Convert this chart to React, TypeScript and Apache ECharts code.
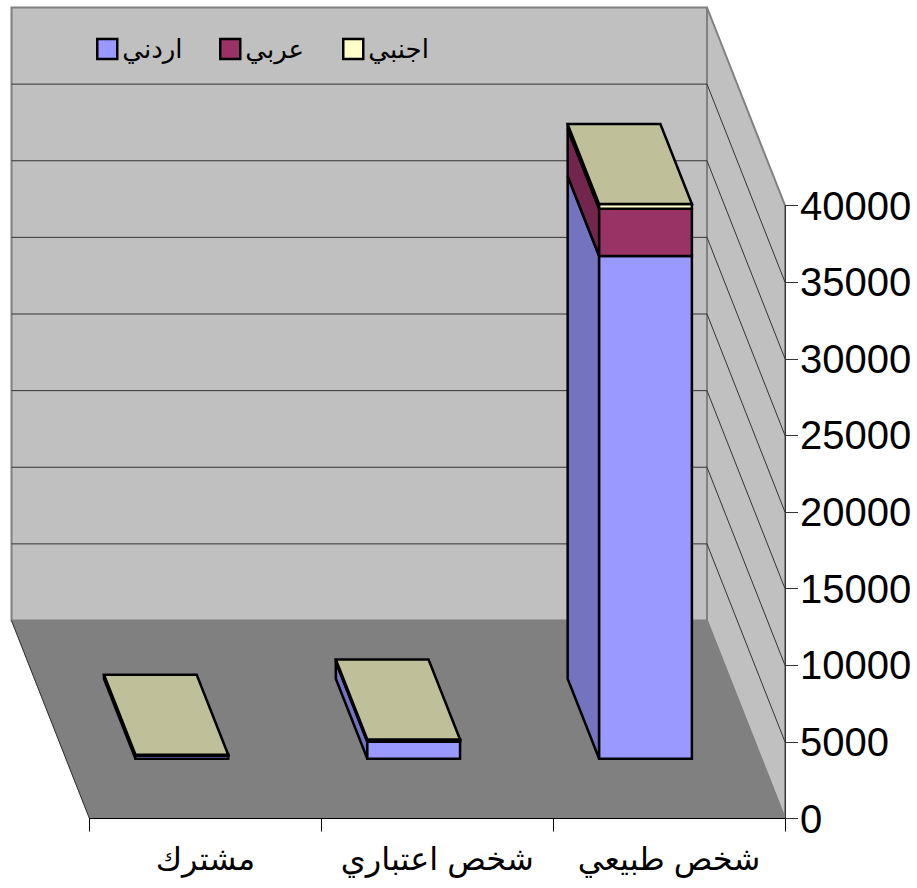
import React, { useEffect, useRef } from "react";
import * as echarts from "echarts";

const categories = ["مشترك", "شخص اعتباري", "شخص طبيعي"];
const seriesNames = ["اردني", "عربي", "اجنبي"];
const jordanian = [200, 1100, 32800];
const arab = [30, 100, 3090];
const foreign = [30, 50, 300];
const yTicks = [5000, 10000, 15000, 20000, 25000, 30000, 35000, 40000];

const frontColors = ["#9999ff", "#993366", "#ffffcc"];
const sideColors = ["#7373bf", "#73264d", "#bfbf99"];
const topColor = "#bfbf99";

const FONT = '"Liberation Sans", Arial, "DejaVu Sans", sans-serif';
const DX = -78;
const DY = -198;
const BAR_FRONT = 0.302;
const BAR_BACK = 0.706;
const BAR_WIDTH_RATIO = 0.4;

const EDGE = "#000000";

function wallRender(params: any, api: any) {
  const cs = params.coordSys;
  const L = cs.x;
  const R = cs.x + cs.width;
  const B = cs.y + cs.height;
  const T = cs.y;
  const wallStroke = { stroke: "#808080", lineWidth: 2 };
  const children: any[] = [
    {
      type: "polygon",
      shape: { points: [[L + DX, T + DY], [R + DX, T + DY], [R + DX, B + DY], [L + DX, B + DY]] },
      style: { fill: "#c0c0c0", ...wallStroke },
    },
    {
      type: "polygon",
      shape: { points: [[R + DX, T + DY], [R, T], [R, B], [R + DX, B + DY]] },
      style: { fill: "#c0c0c0", ...wallStroke },
    },
    {
      type: "polygon",
      shape: { points: [[L + DX, B + DY], [R + DX, B + DY], [R, B], [L, B]] },
      style: { fill: "#808080", stroke: "#808080", lineWidth: 1 },
    },
    {
      type: "line",
      shape: { x1: L + DX, y1: B + DY, x2: L, y2: B },
      style: { stroke: "#333333", lineWidth: 1 },
    },
  ];
  yTicks.slice(0, -1).forEach((v) => {
    const y = api.coord([0, v])[1];
    children.push({
      type: "polyline",
      shape: { points: [[L + DX, y + DY], [R + DX, y + DY], [R, y]] },
      style: { stroke: "#333333", lineWidth: 1, fill: "none" },
    });
  });
  return { type: "group", children };
}

function barRender(seriesIndex: number, isTop: boolean) {
  return (_params: any, api: any) => {
    const cat = api.value(0);
    const base = api.value(1);
    const end = api.value(2);
    const center = api.coord([cat, 0])[0];
    const width = api.size([1, 0])[0] * BAR_WIDTH_RATIO;
    const y0 = api.coord([cat, base])[1];
    const y1 = api.coord([cat, end])[1];
    const fx = center + DX * BAR_FRONT;
    const fy = DY * BAR_FRONT;
    const ox = DX * (BAR_BACK - BAR_FRONT);
    const oy = DY * (BAR_BACK - BAR_FRONT);
    const l = fx - width / 2;
    const r = fx + width / 2;
    const by = y0 + fy;
    const ty = y1 + fy;
    const edge = { stroke: EDGE, lineWidth: 2.5, lineJoin: "miter" };
    const children: any[] = [
      {
        type: "polygon",
        shape: { points: [[l + ox, by + oy], [l, by], [l, ty], [l + ox, ty + oy]] },
        style: { fill: sideColors[seriesIndex], ...edge },
      },
      {
        type: "polygon",
        shape: { points: [[l, by], [r, by], [r, ty], [l, ty]] },
        style: { fill: frontColors[seriesIndex], ...edge },
      },
    ];
    if (isTop) {
      children.push({
        type: "polygon",
        shape: { points: [[l, ty], [r, ty], [r + ox, ty + oy], [l + ox, ty + oy]] },
        style: { fill: topColor, ...edge },
      });
    }
    return { type: "group", children };
  };
}

export default function App() {
  const ref = useRef<HTMLDivElement>(null);

  useEffect(() => {
    document.body.style.margin = "0";
    const chart = echarts.init(ref.current!, null, { renderer: "svg" });
    const stacks = [jordanian, arab, foreign];
    const running = categories.map(() => 0);
    const barSeries = stacks.map((values, si) => {
      const data = values.map((v, i) => {
        const item = [i, running[i], running[i] + v];
        running[i] += v;
        return item;
      });
      return {
        type: "custom",
        name: seriesNames[si],
        coordinateSystem: "cartesian2d",
        clip: false,
        silent: true,
        z: 3,
        itemStyle: { color: frontColors[si] },
        encode: { x: 0, y: 2 },
        data,
        renderItem: barRender(si, si === stacks.length - 1),
      };
    });
    const legendLefts = [91, 214, 337];
    chart.setOption({
      animation: false,
      backgroundColor: "#ffffff",
      textStyle: { fontFamily: FONT },
      grid: { left: 89.5, right: 132, top: 205.5, bottom: 69.5, containLabel: false },
      legend: seriesNames.map((name, i) => ({
        data: [name],
        left: legendLefts[i],
        top: 31,
        icon: "rect",
        itemWidth: 20,
        itemHeight: 20,
        selectedMode: false,
        itemStyle: { borderColor: "#000000", borderWidth: 2.5 },
        textStyle: { fontFamily: FONT, fontSize: 26, color: "#000000" },
      })),
      xAxis: {
        type: "category",
        data: categories,
        boundaryGap: true,
        z: 10,
        axisLine: { show: true, lineStyle: { color: "#000000", width: 1 } },
        axisTick: { show: true, alignWithLabel: false, length: 13, lineStyle: { color: "#000000", width: 1 } },
        axisLabel: { color: "#000000", fontSize: 32, fontFamily: FONT, margin: 24, interval: 0 },
      },
      yAxis: {
        type: "value",
        position: "right",
        min: 0,
        max: 40000,
        interval: 5000,
        z: 10,
        splitLine: { show: false },
        axisLine: { show: true, lineStyle: { color: "#333333", width: 1 } },
        axisTick: { show: true, length: 13, lineStyle: { color: "#333333", width: 1 } },
        axisLabel: { color: "#000000", fontSize: 40, fontFamily: FONT, margin: 15, formatter: (v: number) => String(v) },
      },
      series: [
        {
          type: "custom",
          coordinateSystem: "cartesian2d",
          clip: false,
          silent: true,
          z: 1,
          data: [[0, 0]],
          renderItem: wallRender,
        },
        ...barSeries,
      ],
    });
    return () => chart.dispose();
  }, []);

  return <div ref={ref} style={{ position: "absolute", left: 0, top: 0, width: 917, height: 888 }} />;
}
